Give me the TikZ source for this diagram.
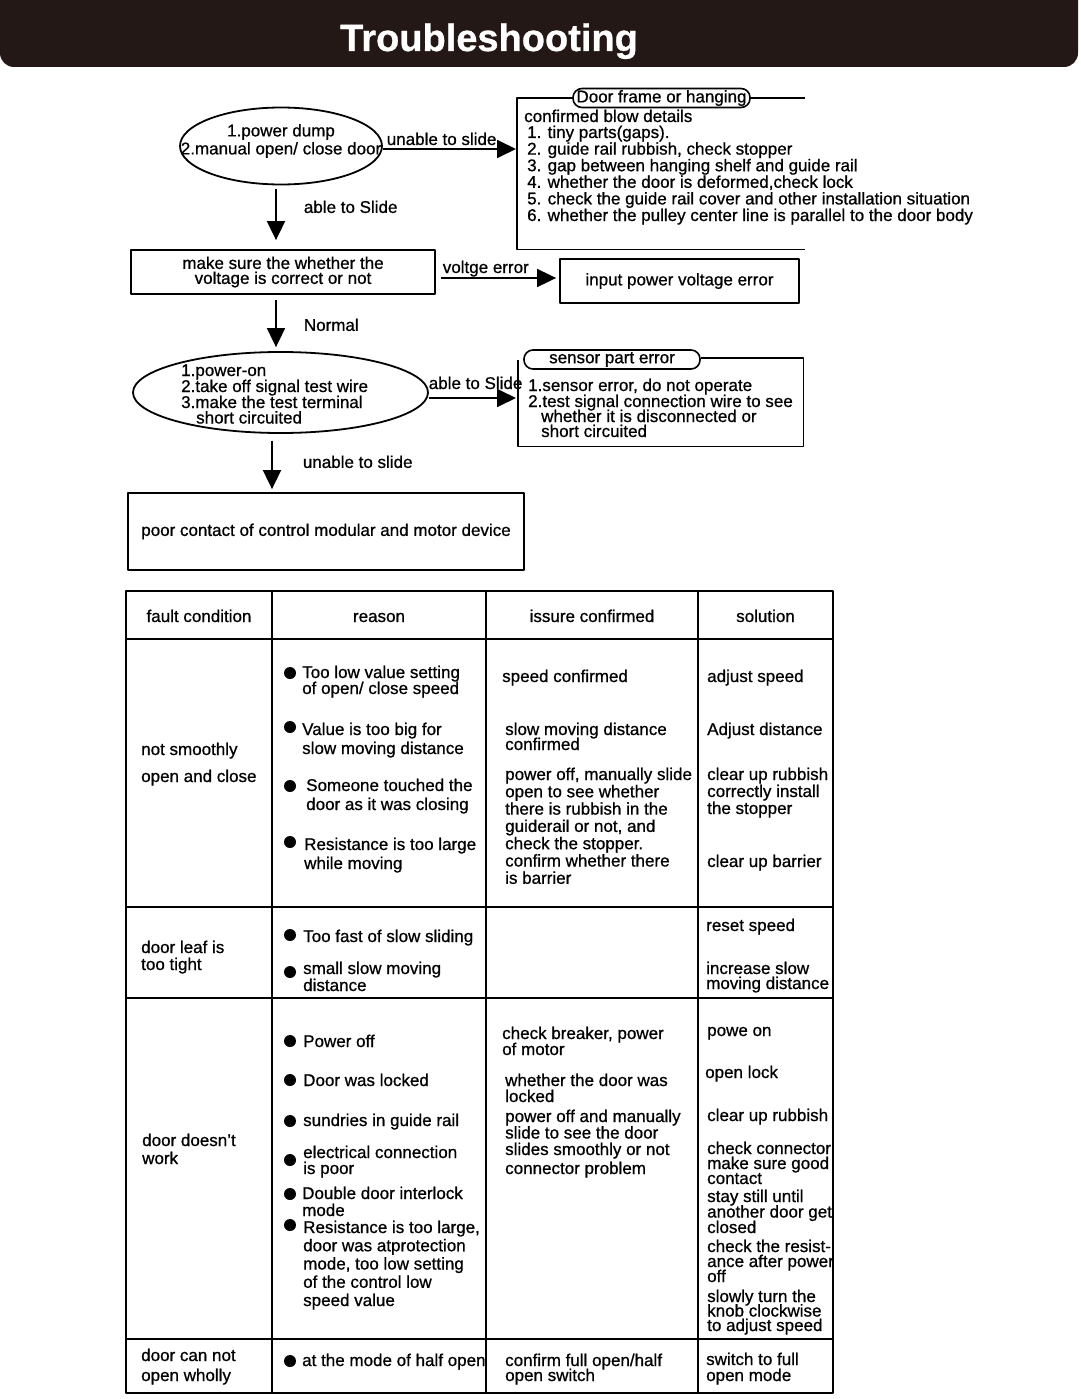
\documentclass[tikz,border=0pt]{standalone}
\usepackage{fontspec}
\setmainfont{Liberation Sans}[FakeBold=0.8]
\usetikzlibrary{arrows.meta,shapes.geometric}
\definecolor{ink}{HTML}{231815}
\tikzset{
  box/.style={draw, line width=1.8pt, inner sep=0pt, align=center},
  oval/.style={draw, ellipse, line width=1.8pt, inner sep=0pt},
  tag/.style={draw, rounded corners=9pt, line width=1.6pt, fill=white, inner sep=0pt, minimum height=19pt},
  arr/.style={line width=1.8pt, -{Triangle[length=19pt,width=18pt]}},
  txt/.style={anchor=base west, inner sep=0pt},
  dot/.style={circle, fill, inner sep=0pt, minimum size=12pt},
  rule/.style={line width=1.8pt},
}
% one text line per node, first baseline at #3, gap #4
\newcommand\celltext[5]{%
  \foreach \tline [count=\k from 0] in {#5}
    \node[txt] (#1-\k) at (#2,{#3+\k*#4}) {\tline};}
\begin{document}
\begin{tikzpicture}[x=1pt, y=-1pt, font=\fontsize{17}{16.6}\selectfont, line join=round]
\useasboundingbox (0,0) rectangle (1080,1399);
% title bar
\fill[ink, rounded corners=14pt] (0,-20) rectangle (1078,67);
\node[anchor=base, text=white, font=\bfseries\fontsize{38}{40}\selectfont] (title) at (489,51) {Troubleshooting};

% flow chart
\node[oval, minimum width=202pt, minimum height=77pt] (dump) at (281,146) {};
\node[align=center, inner sep=0pt] (dumpt) at (281,141) {1.power dump\\[1.4pt]2.manual open/ close door};

\node[anchor=north west, inner sep=0pt, minimum width=288pt, minimum height=151pt] (frame) at (517,98) {};
\draw[rule] (frame.north east) -- (frame.north west) -- (frame.south west) -- (frame.south east);
\node[tag, minimum width=177pt] (framet) at (661.5,98) {Door frame or hanging};
\node[txt] (fh) at (524,122) {confirmed blow details};
\celltext{fr}{527}{138}{16.6}{{1. tiny parts(gaps).},{2. guide rail rubbish, check stopper},{3. gap between hanging shelf and guide rail},{4. whether the door is deformed,check lock},{5. check the guide rail cover and other installation situation},{6. whether the pulley center line is parallel to the door body}}

\node[box, minimum width=304pt, minimum height=44pt] (chk) at (283,272) {make sure the whether the\\[-1.6pt]voltage is correct or not};
\node[box, minimum width=239pt, minimum height=44pt] (vin) at (679.5,281) {input power voltage error};

\node[oval, minimum width=295pt, minimum height=81pt] (pwr) at (280.5,392.5) {};
\celltext{pw}{181}{376}{16}{1.power-on,2.take off signal test wire,3.make the test terminal}
\node[txt] (pwl) at (196,423.5) {short circuited};

\node[anchor=north west, inner sep=0pt, minimum width=285pt, minimum height=88pt] (sens) at (518,358) {};
\node[tag, minimum width=176pt] (senst) at (612,359.5) {sensor part error};
\draw[rule] (sens.west |- senst.center) -- (sens.south west) -- (sens.south east) -- (sens.north east) -- (senst.east |- sens.north);
\celltext{se}{528}{391}{16}{{1.sensor error, do not operate},2.test signal connection wire to see}
\celltext{sw}{541}{422}{15}{whether it is disconnected or,short circuited}

\node[box, minimum width=396pt, minimum height=77pt] (poor) at (326,531.5) {poor contact of control modular and motor device};

% connectors
\draw[arr, shorten >=1pt] ([yshift=-3pt]dump.east) -- ([yshift=-3pt]dump.east -| frame.west)
  node[txt, pos=0, xshift=3pt, yshift=4pt] (l1) {unable to slide};
\draw[arr, shorten <=4pt, shorten >=9pt] ([xshift=-5pt]dump.south) -- ([xshift=-5pt]dump.south |- chk.north)
  node[txt, pos=0, xshift=27pt, yshift=-27.5pt] (l2) {able to Slide};
\draw[arr, shorten <=5pt, shorten >=3pt] ([yshift=-6pt]chk.east) -- ([yshift=-6pt]chk.east -| vin.west)
  node[txt, pos=0, xshift=6pt, yshift=5pt] (l3) {voltge error};
\draw[arr, shorten <=5pt, shorten >=4pt] ([xshift=-7pt]chk.south) -- ([xshift=-7pt]chk.south |- pwr.north)
  node[txt, pos=0, xshift=27pt, yshift=-36pt] (l4) {Normal};
\draw[arr, shorten >=2pt] ([yshift=-5.5pt]pwr.east) -- ([yshift=-5.5pt]pwr.east -| sens.west)
  node[txt, pos=0, xshift=-1pt, yshift=9pt] (l5) {able to Slide};
\draw[arr, shorten <=7pt, shorten >=3pt] ([xshift=-8.5pt]pwr.south) -- ([xshift=-8.5pt]pwr.south |- poor.north)
  node[txt, pos=0, xshift=30pt, yshift=-34pt] (l6) {unable to slide};

% table
\foreach \hx/\htext [count=\k] in {199/fault condition,379/reason,592/issure confirmed,765.5/solution}
  \node[anchor=base, inner sep=0pt] (hd-\k) at (\hx,622) {\htext};
\foreach \by [count=\k] in {673,727,786,842,935,972,1041,1080,1121,1160,1194,1225,1361}
  \node[dot] (bul-\k) at (290,\by) {};

% row: not smoothly
\celltext{a1}{141}{755}{27}{not smoothly,open and close}
\celltext{a2}{302}{678}{16}{Too low value setting,of open/ close speed}
\celltext{a3}{302}{735}{19}{Value is too big for,slow moving distance}
\celltext{a4}{306}{791}{19}{Someone touched the,door as it was closing}
\celltext{a5}{304}{850}{19}{Resistance is too large,while moving}
\node[txt] (a6) at (502,682) {speed confirmed};
\celltext{a7}{505}{735}{15}{slow moving distance,confirmed}
\celltext{a8}{505}{780}{17.3}{{power off, manually slide},open to see whether,there is rubbish in the,{guiderail or not, and},check the stopper.,confirm whether there,is barrier}
\node[txt] (a9) at (707,682) {adjust speed};
\node[txt] (a10) at (707,735) {Adjust distance};
\celltext{a11}{707}{780}{17}{clear up rubbish,correctly install,the stopper}
\node[txt] (a12) at (707,867) {clear up barrier};

% row: door leaf
\celltext{b1}{141}{953}{17}{door leaf is,too tight}
\node[txt] (b2) at (303,942) {Too fast of slow sliding};
\celltext{b3}{303}{974}{17}{small slow moving,distance}
\node[txt] (b4) at (706,931) {reset speed};
\celltext{b5}{706}{974}{15}{increase slow,moving distance}

% row: door doesn't work
\celltext{c1}{142}{1146}{18}{door doesn't,work}
\node[txt] (c2) at (303,1047) {Power off};
\node[txt] (c3) at (303,1086) {Door was locked};
\node[txt] (c4) at (303,1126) {sundries in guide rail};
\celltext{c5}{303}{1158}{16}{electrical connection,is poor}
\celltext{c6}{302}{1199}{17}{Double door interlock,mode}
\celltext{c7}{303}{1233}{18.25}{{Resistance is too large,},door was atprotection,{mode, too low setting},of the control low,speed value}
\celltext{c8}{502}{1039}{16}{{check breaker, power},of motor}
\celltext{c9}{505}{1086}{16}{whether the door was,locked}
\celltext{c10}{505}{1122}{16.5}{power off and manually,slide to see the door,slides smoothly or not}
\node[txt] (c11) at (505,1174) {connector problem};
\node[txt] (c12) at (707,1036) {powe on};
\node[txt] (c13) at (705,1078) {open lock};
\node[txt] (c14) at (707,1121) {clear up rubbish};
\celltext{c15}{707}{1154}{15}{check connector,make sure good,contact}
\celltext{c16}{707}{1202}{15.5}{stay still until,another door get,closed}
\celltext{c17}{707}{1252}{15}{check the resist-,ance after power,off}
\celltext{c18}{707}{1302}{14.5}{slowly turn the,knob clockwise,to adjust speed}

% row: door can not open
\celltext{d1}{141}{1361}{20}{door can not,open wholly}
\node[txt] (d2) at (302,1366) {at the mode of half open};
\celltext{d3}{505}{1366}{15}{confirm full open/half,open switch}
\celltext{d4}{706}{1365}{16}{switch to full,open mode}

% grid on top
\draw[rule] (126,591) rectangle (833,1393);
\foreach \cx in {272,486,698} \draw[rule] (\cx,591) -- (\cx,1393);
\foreach \ry in {639,907,998,1339} \draw[rule] (126,\ry) -- (833,\ry);
\end{tikzpicture}
\end{document}
